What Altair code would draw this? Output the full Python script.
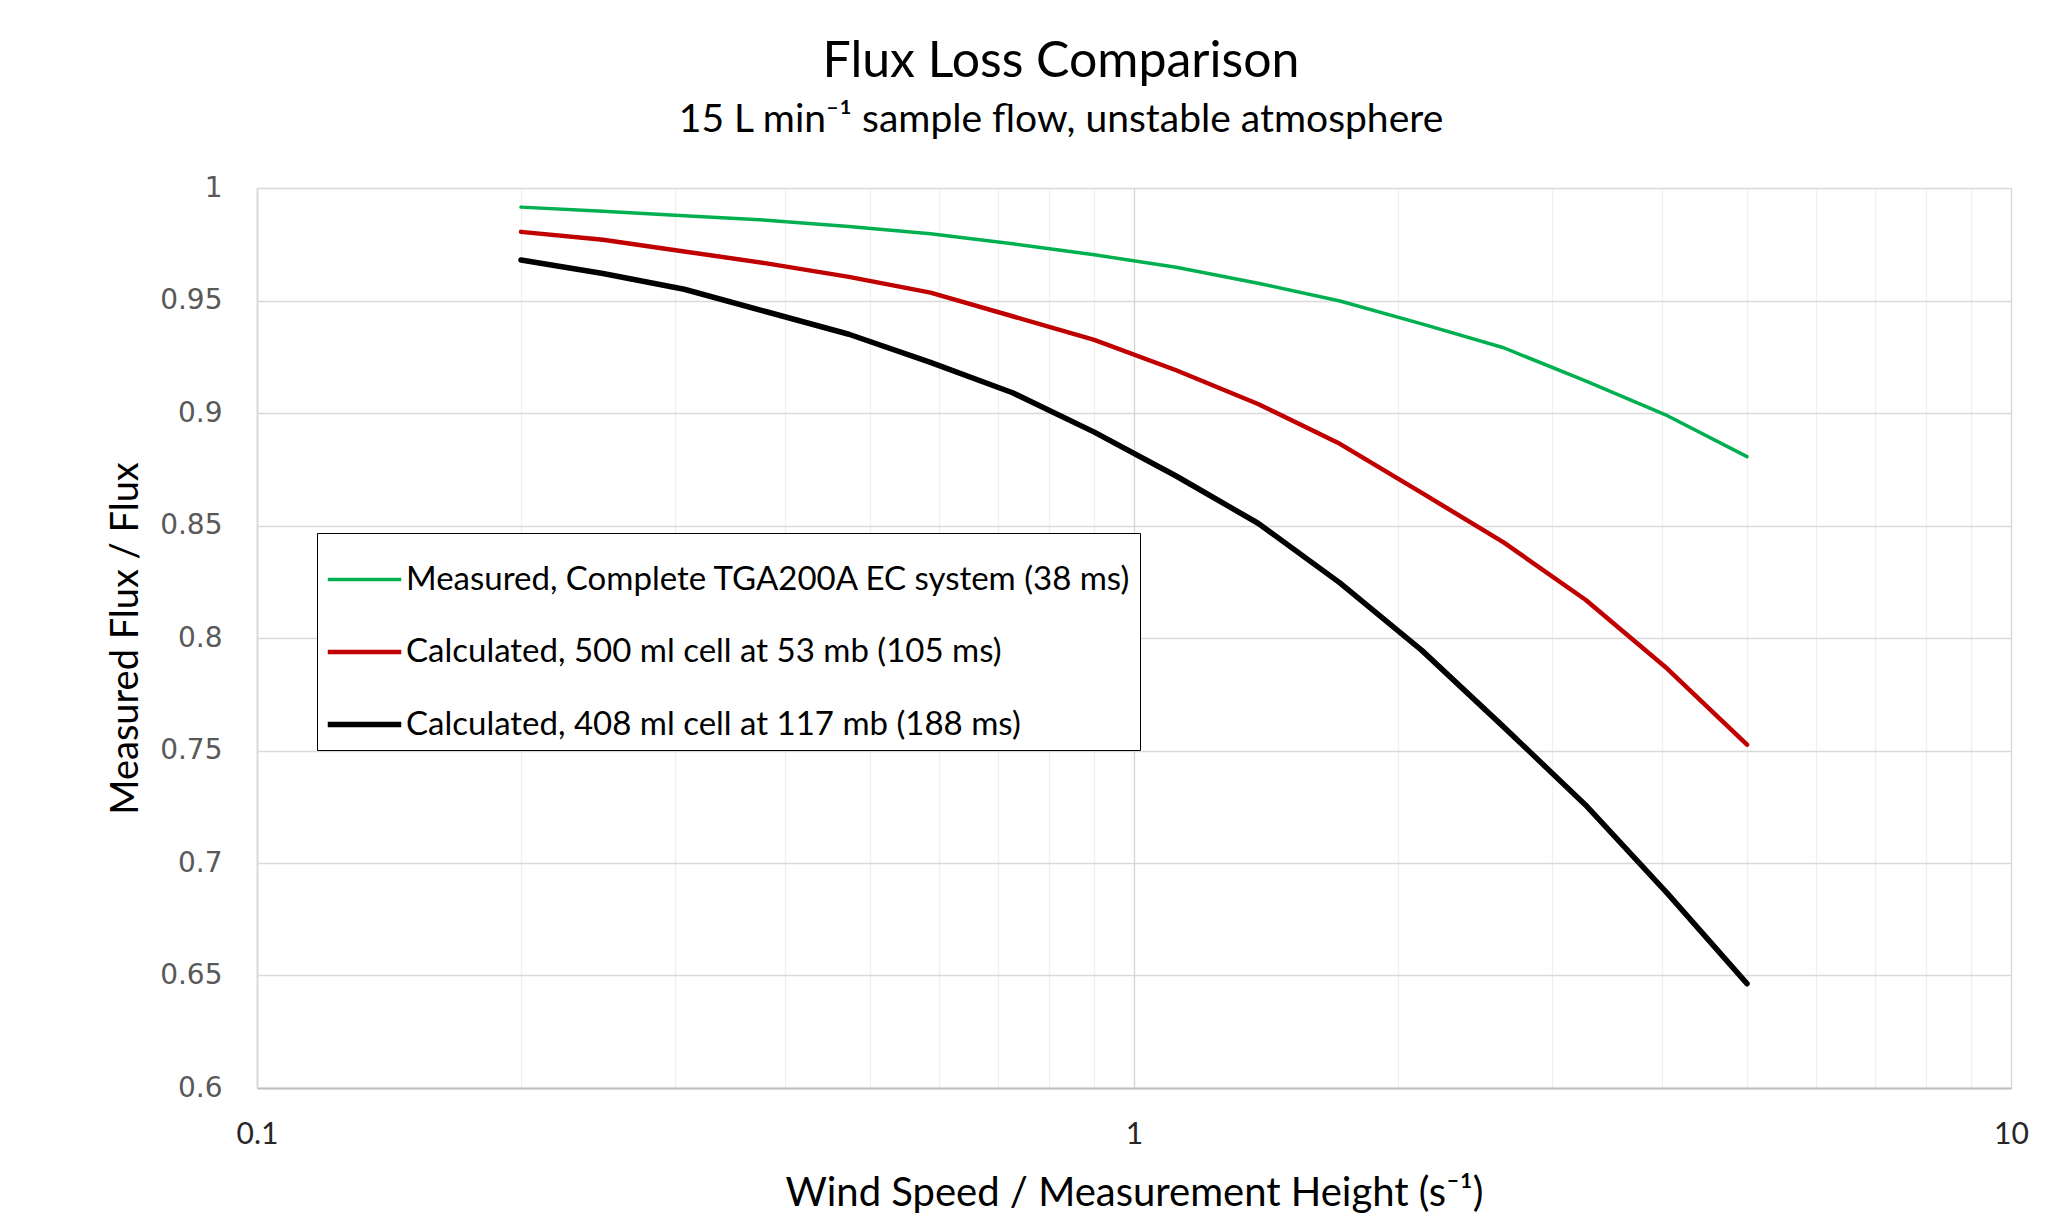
import altair as alt
import pandas as pd

# x: wind speed / measurement height (s^-1)
x_vals = [0.2, 0.248, 0.307, 0.381, 0.473, 0.586, 0.727, 0.901, 1.117, 1.385,
          1.717, 2.129, 2.639, 3.272, 4.057, 5.0]
measured_38ms = [0.9915, 0.9897, 0.9877, 0.9857, 0.9829, 0.9797, 0.9752, 0.9703,
                 0.9648, 0.9577, 0.9498, 0.9396, 0.9290, 0.9143, 0.8988, 0.8806]
calc_500ml = [0.9805, 0.9770, 0.9718, 0.9665, 0.9605, 0.9535, 0.9430, 0.9325,
              0.9190, 0.9040, 0.8863, 0.8645, 0.8425, 0.8170, 0.7863, 0.7526]
calc_408ml = [0.9680, 0.9620, 0.9550, 0.9450, 0.9350, 0.9225, 0.9090, 0.8915,
              0.8720, 0.8510, 0.8245, 0.7945, 0.7605, 0.7258, 0.6865, 0.6464]

series_names = [
    "Measured, Complete TGA200A EC system (38 ms)",
    "Calculated, 500 ml cell at 53 mb (105 ms)",
    "Calculated, 408 ml cell at 117 mb (188 ms)",
]
series_colors = ["#00b050", "#c00000", "#000000"]
series_widths = [3.5, 5.5, 3.5]

x_ticks = [0.1, 0.2, 0.3, 0.4, 0.5, 0.6, 0.7, 0.8, 0.9, 1,
           2, 3, 4, 5, 6, 7, 8, 9, 10]
y_ticks = [0.6, 0.65, 0.7, 0.75, 0.8, 0.85, 0.9, 0.95, 1]

rows = []
for name, vals in zip(series_names, [measured_38ms, calc_500ml, calc_408ml]):
    for i, (x, y) in enumerate(zip(x_vals, vals)):
        rows.append({"series": name, "x": x, "y": y, "order": i})
df = pd.DataFrame(rows)

legend = alt.Legend(
    title=None,
    orient="none",
    legendX=60,
    legendY=345,
    strokeColor="#000000",
    fillColor="#ffffff",
    padding=8,
    labelFont="Lato",
    labelFontSize=33,
    labelColor="#000000",
    labelLimit=1000,
    labelOffset=2,
    symbolType="stroke",
    symbolSize=5400,
    rowPadding=16,
)

chart = (
    alt.Chart(df)
    .mark_line(strokeCap="round", strokeJoin="round")
    .encode(
        x=alt.X(
            "x:Q",
            scale=alt.Scale(type="log", domain=[0.1, 10], nice=False),
            axis=alt.Axis(
                title="Wind Speed / Measurement Height (s⁻¹)",
                values=x_ticks,
                labelExpr="(datum.value == 0.1 || datum.value == 1 || datum.value == 10) ? datum.label : ''",
                format="~g",
                grid=True,
                gridColor=alt.condition("datum.value == 1 || datum.value == 10",
                                        alt.value("#d4d4d4"), alt.value("#efefef")),
                gridWidth=1.3,
                domainColor="#bfbfbf",
                domainWidth=2,
                ticks=False,
                labelFont="Lato",
                labelFontSize=30,
                labelColor="#262626",
                labelPadding=31,
                labelFlush=False,
                titleFont="Lato",
                titleFontSize=40,
                titleFontWeight="normal",
                titleColor="#000000",
                titlePadding=24,
            ),
        ),
        y=alt.Y(
            "y:Q",
            scale=alt.Scale(domain=[0.6, 1], nice=False, zero=False),
            axis=alt.Axis(
                title="Measured Flux / Flux",
                values=y_ticks,
                format="~g",
                grid=True,
                gridColor="#d9d9d9",
                gridWidth=1.3,
                domainColor="#d9d9d9",
                domainWidth=2,
                ticks=False,
                labelFont="DejaVu Sans",
                labelFontSize=28,
                labelColor="#595959",
                labelPadding=35,
                labelFlush=False,
                titleFont="Lato",
                titleFontSize=38,
                titleFontWeight="normal",
                titleColor="#000000",
                titlePadding=14,
            ),
        ),
        color=alt.Color(
            "series:N",
            scale=alt.Scale(domain=series_names, range=series_colors),
            legend=legend,
        ),
        strokeWidth=alt.StrokeWidth(
            "series:N",
            scale=alt.Scale(domain=series_names, range=series_widths),
            legend=legend,
        ),
        order="order:Q",
    )
    .properties(
        width=1754,
        height=900,
        autosize=alt.AutoSizeParams(type="none"),
        padding={"left": 249, "top": 180, "right": 20, "bottom": 127},
        title=alt.TitleParams(
            text="Flux Loss Comparison",
            subtitle="15 L min⁻¹ sample flow, unstable atmosphere",
            anchor="middle",
            dx=-73,
            font="Lato",
            fontSize=50,
            fontWeight="normal",
            color="#000000",
            subtitleFont="Lato",
            subtitleFontSize=39,
            subtitleColor="#000000",
            subtitlePadding=14,
            offset=34,
        ),
    )
    .configure_view(strokeWidth=0)
    .configure(background="#ffffff")
)

chart.save("out.html", embed_options={"renderer": "svg", "actions": False})
